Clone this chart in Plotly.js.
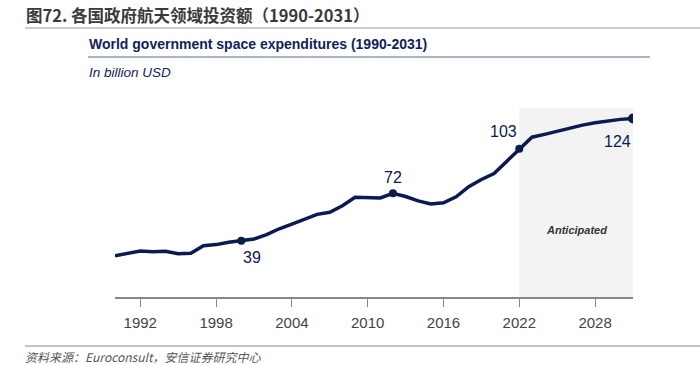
<!DOCTYPE html>
<html>
<head>
<meta charset="utf-8">
<script src="https://cdn.plot.ly/plotly-3.0.1.min.js"></script>
<style>html,body{margin:0;padding:0;background:#fff;}#chart{width:700px;height:365px;}</style>
</head>
<body>
<div id="chart"></div>
<script>
const years = [1990,1991,1992,1993,1994,1995,1996,1997,1998,1999,2000,2001,2002,2003,2004,2005,2006,2007,2008,2009,2010,2011,2012,2013,2014,2015,2016,2017,2018,2019,2020,2021,2022,2023,2024,2025,2026,2027,2028,2029,2030,2031];
const spending = [28.7,30.6,32.0,31.4,31.7,30.0,30.4,35.6,36.4,38.1,39,40.3,43.4,47.4,50.6,54.1,57.4,58.9,63.4,69.3,69.0,68.8,72,69.8,66.8,64.6,65.5,69.6,76.6,81.6,85.8,94.0,103,111,113,115.2,117.4,119.4,121.0,122.5,123.4,124];
const labelYears = [2000,2012,2022,2031];
const labelValues = [39,72,103,124];
const tickYears = [1992,1998,2004,2010,2016,2022,2028];
const forecastStart = 2022, forecastEnd = 2031;

const navy = '#0b1a4f';
const L = 115, R = 633, T = 108, B = 297;
const px = x => (x - L) / (R - L);
const py = y => (B - y) / (B - T);

const traces = [
  {x: years, y: spending, type:'scatter', mode:'lines', line:{color:navy, width:3.5}, hoverinfo:'skip'},
  {x: labelYears.slice(0,3), y: labelValues.slice(0,3), type:'scatter', mode:'markers', marker:{color:navy, size:8}, hoverinfo:'skip'},
  {x: [labelYears[3]], y: [labelValues[3]], type:'scatter', mode:'markers', marker:{color:navy, size:10}, hoverinfo:'skip'}
];

const ann = [
  {x: labelYears[0], y: labelValues[0], text: String(labelValues[0]), xref:'x', yref:'y', showarrow:false, xshift:11, yshift:-17, font:{size:16, color:navy}},
  {x: labelYears[1], y: labelValues[1], text: String(labelValues[1]), xref:'x', yref:'y', showarrow:false, xshift:0, yshift:16, font:{size:16, color:navy}},
  {x: labelYears[2], y: labelValues[2], text: String(labelValues[2]), xref:'x', yref:'y', showarrow:false, xshift:-16, yshift:17, font:{size:16, color:navy}},
  {x: labelYears[3], y: labelValues[3], text: String(labelValues[3]), xref:'x', yref:'y', showarrow:false, xshift:-16, yshift:-23, font:{size:16, color:navy}},
  {x: 2026.5, y: py(238), xref:'x', yref:'paper', text:'<b><i>Anticipated</i></b>', showarrow:false, font:{size:11, color:'#333'}},
  {x: px(24), y: py(15), xref:'paper', yref:'paper', xanchor:'left', yanchor:'middle', text:'<b>图72. 各国政府航天领域投资额（1990-2031）</b>', showarrow:false, font:{family:'Noto Sans CJK SC', size:16.5, color:'#3a3a3a'}},
  {x: px(87), y: py(44), xref:'paper', yref:'paper', xanchor:'left', yanchor:'middle', text:'<b>World government space expenditures (1990-2031)</b>', showarrow:false, font:{size:14, color:'#13215a'}},
  {x: px(87), y: py(72), xref:'paper', yref:'paper', xanchor:'left', yanchor:'middle', text:'<i>In billion USD</i>', showarrow:false, font:{size:13.5, color:'#13215a'}},
  {x: px(24), y: py(356), xref:'paper', yref:'paper', xanchor:'left', yanchor:'middle', text:'<i>资料来源：Euroconsult，安信证券研究中心</i>', showarrow:false, font:{family:'Noto Sans CJK SC', size:12, color:'#555'}, borderpad:0}
];

const shapes = [
  {type:'rect', xref:'x', yref:'paper', x0:forecastStart, x1:forecastEnd, y0:0, y1:1, fillcolor:'#f3f3f3', line:{width:0}, layer:'below'},
  {type:'line', xref:'paper', yref:'paper', x0:px(25), x1:px(700), y0:py(28), y1:py(28), line:{color:'#999', width:1}},
  {type:'line', xref:'paper', yref:'paper', x0:px(88), x1:px(650), y0:py(57), y1:py(57), line:{color:'#8d9ab3', width:1.5}},
  {type:'line', xref:'paper', yref:'paper', x0:px(25), x1:px(700), y0:py(346), y1:py(346), line:{color:'#888', width:1}}
];

const layout = {
  width:700, height:365,
  margin:{l:L, r:700-R, t:T, b:365-B, pad:0},
  paper_bgcolor:'#fff', plot_bgcolor:'rgba(0,0,0,0)',
  showlegend:false,
  font:{family:'Liberation Sans, Arial, sans-serif'},
  xaxis:{range:[1990,2031], tickvals:tickYears, ticktext:tickYears.map(String), showgrid:false, zeroline:false,
         showline:true, linecolor:'#888', linewidth:2, ticks:'outside', ticklen:8, tickcolor:'#888', tickwidth:1,
         tickfont:{size:15, color:'#444'}, ticklabelstandoff:3, fixedrange:true},
  yaxis:{range:[0,131.3], visible:false, fixedrange:true},
  annotations: ann,
  shapes: shapes
};

Plotly.newPlot('chart', traces, layout, {staticPlot:true, displayModeBar:false});
</script>
</body>
</html>
